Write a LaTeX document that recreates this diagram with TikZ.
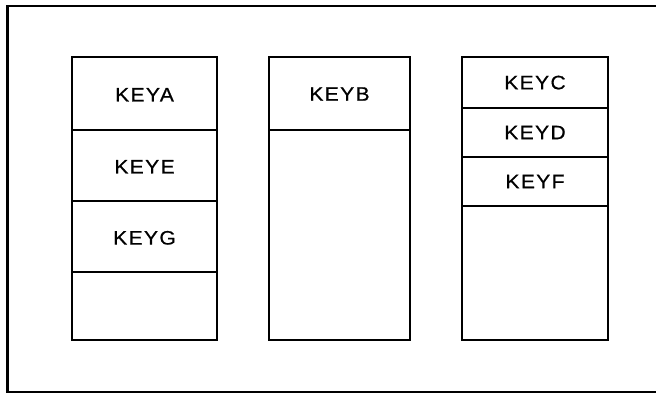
\documentclass[tikz,border=0pt]{standalone}
\usepackage{fontspec}
\setmainfont{Liberation Sans}[LetterSpace=7, FakeStretch=1.08, FakeBold=0.6]
\newcommand\lowtext[1]{\raisebox{-2.5pt}{#1}}
\begin{document}
\begin{tikzpicture}[x=1pt,y=-1pt,
  cell/.style={draw, line width=2.2pt, inner sep=0pt, outer sep=0pt,
    font=\fontsize{19.5}{19.5}\selectfont, text depth=0pt},
  frame/.style={line width=2.2pt}]
\useasboundingbox (0,0) rectangle (656,394);
\draw[frame] (656,6) -- (7.5,6) -- (7.5,392) -- (656,392);
% column 1
\node[cell, minimum width=145pt, minimum height=73pt] (a) at (144.5,93.5) {\lowtext{KEYA}};
\node[cell, minimum width=145pt, minimum height=71pt] (e) at (144.5,165.5) {\lowtext{KEYE}};
\node[cell, minimum width=145pt, minimum height=71pt] (g) at (144.5,236.5) {\lowtext{KEYG}};
\node[cell, minimum width=145pt, minimum height=68pt] (c1) at (144.5,306) {};
% column 2
\node[cell, minimum width=141pt, minimum height=73pt] (b) at (339.5,93.5) {\raisebox{-1pt}{KEYB}};
\node[cell, minimum width=141pt, minimum height=210pt] (c2) at (339.5,235) {};
% column 3
\node[cell, minimum width=146pt, minimum height=51pt] (c) at (535,82.5) {KEYC};
\node[cell, minimum width=146pt, minimum height=49pt] (d) at (535,132.5) {KEYD};
\node[cell, minimum width=146pt, minimum height=49pt] (f) at (535,181.5) {KEYF};
\node[cell, minimum width=146pt, minimum height=134pt] (c3) at (535,273) {};
\end{tikzpicture}
\end{document}
